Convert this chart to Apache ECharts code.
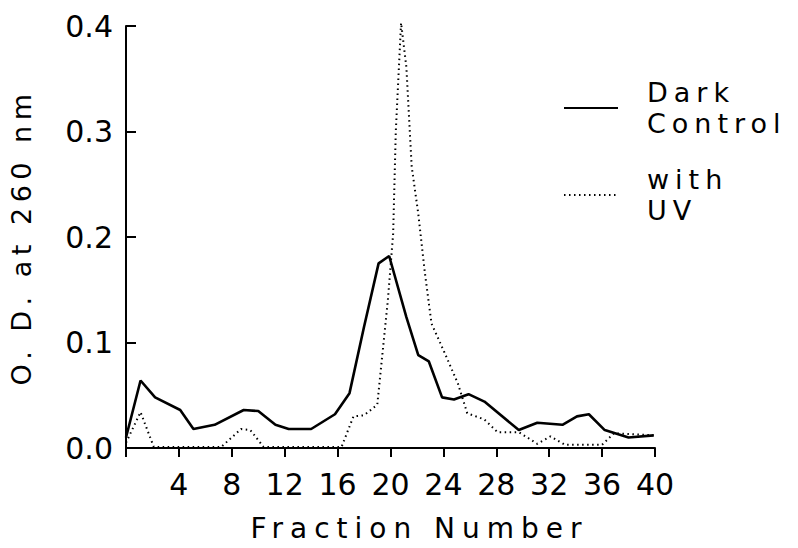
<!DOCTYPE html>
<html>
<head>
<meta charset="utf-8">
<title>O.D. at 260 nm by fraction</title>
<script src="https://cdn.jsdelivr.net/npm/echarts@6/dist/echarts.min.js"></script>
<style>
  html, body { margin: 0; padding: 0; background: #fff; }
  #chart { width: 798px; height: 548px; }
</style>
</head>
<body>
<div id="chart"></div>
<script>
// values
var darkX = [0, 1.1, 2.2, 4.1, 5.1, 6.7, 8.9, 10, 11.3, 12.3, 14, 15.8, 16.9, 18, 19.1, 19.9, 21.2, 22.1, 22.9, 23.9, 24.8, 25.9, 27.1, 29.7, 31.1, 33, 34.1, 35, 36.2, 38, 39.9];
var darkY = [0.01, 0.064, 0.048, 0.036, 0.018, 0.022, 0.036, 0.035, 0.022, 0.018, 0.018, 0.032, 0.052, 0.115, 0.175, 0.182, 0.124, 0.088, 0.082, 0.048, 0.046, 0.051, 0.044, 0.017, 0.024, 0.022, 0.030, 0.032, 0.017, 0.010, 0.012];

var uvX = [0, 1.1, 2.1, 7.2, 8.7, 9.4, 10.4, 16.3, 17.2, 18, 19, 19.8, 20.2, 20.4, 20.8, 21.2, 21.6, 22.1, 22.6, 23.1, 24.1, 25.1, 25.8, 27.1, 28.1, 29.7, 31.1, 32.1, 33.2, 36, 36.9, 39.9];
var uvY = [0.005, 0.034, 0.001, 0.001, 0.018, 0.017, 0.001, 0.001, 0.030, 0.031, 0.041, 0.140, 0.203, 0.300, 0.403, 0.361, 0.267, 0.222, 0.166, 0.118, 0.090, 0.061, 0.033, 0.027, 0.015, 0.015, 0.004, 0.011, 0.003, 0.003, 0.014, 0.012];

var xTicks = [4, 8, 12, 16, 20, 24, 28, 32, 36, 40];
var yTicks = [0, 0.1, 0.2, 0.3, 0.4];

function pairs(xs, ys) {
  return xs.map(function (x, i) { return [x, ys[i]]; });
}

var font = 'DejaVu Sans';
var chart = echarts.init(document.getElementById('chart'), null, { renderer: 'svg' });

var option = {
  backgroundColor: '#fff',
  animation: false,
  grid: { left: 124, right: 143, top: 26, bottom: 100 },
  legend: {
    orient: 'vertical',
    left: 558,
    top: 72,
    itemWidth: 54,
    itemHeight: 14,
    itemGap: 25,
    itemStyle: { opacity: 0, borderWidth: 0 },
    formatter: function (name) { return name.replace(' ', '\n'); },
    textStyle: {
      fontFamily: font, fontSize: 27, lineHeight: 31, color: '#000',
      padding: [0, 0, 0, 24]
    },
    data: ['Dark Control', 'with UV']
  },
  xAxis: {
    type: 'value',
    min: 0, max: 40, interval: 4,
    name: 'Fraction Number',
    nameLocation: 'middle',
    nameGap: 66,
    nameTextStyle: { fontFamily: font, fontSize: 28, color: '#000', padding: [0, 0, 0, 58] },
    axisLine: { lineStyle: { color: '#000', width: 2 } },
    axisTick: { inside: false, length: 9, lineStyle: { color: '#000', width: 2 } },
    splitLine: { show: false },
    axisLabel: {
      fontFamily: font, fontSize: 30, color: '#000', margin: 21,
      formatter: function (v) { return xTicks.indexOf(v) >= 0 ? String(v) : ''; }
    }
  },
  yAxis: {
    type: 'value',
    min: 0, max: 0.4, interval: 0.1,
    name: 'O. D. at 260 nm',
    nameLocation: 'middle',
    nameGap: 91,
    nameTextStyle: { fontFamily: font, fontSize: 27, color: '#000' },
    axisLine: { show: true, lineStyle: { color: '#000', width: 2 } },
    axisTick: { show: true, inside: true, length: 10, lineStyle: { color: '#000', width: 2 } },
    splitLine: { show: false },
    axisLabel: {
      fontFamily: font, fontSize: 30, color: '#000', margin: 13,
      formatter: function (v) { return yTicks.indexOf(Math.round(v * 10) / 10) >= 0 ? v.toFixed(1) : ''; }
    }
  },
  series: [
    {
      name: 'Dark Control',
      type: 'line',
      data: pairs(darkX, darkY),
      symbol: 'none',
      clip: false,
      lineStyle: { color: '#000', width: 2.6, type: 'solid' },
      itemStyle: { color: '#000' }
    },
    {
      name: 'with UV',
      type: 'line',
      data: pairs(uvX, uvY),
      symbol: 'none',
      clip: false,
      lineStyle: { color: '#000', width: 2, type: [1.5, 3.5] },
      itemStyle: { color: '#000' }
    }
  ]
};

chart.setOption(option);

// the original lettering is widely spaced; spread out the word labels a little
var spacing = { 'Fraction Number': '7px', 'O. D. at 260 nm': '5.5px' };
chart.getDom().querySelectorAll('text').forEach(function (t) {
  var s = t.textContent;
  if (spacing[s]) t.style.letterSpacing = spacing[s];
  else if (/[A-Za-z]/.test(s)) t.style.letterSpacing = '6px';
});
</script>
</body>
</html>
